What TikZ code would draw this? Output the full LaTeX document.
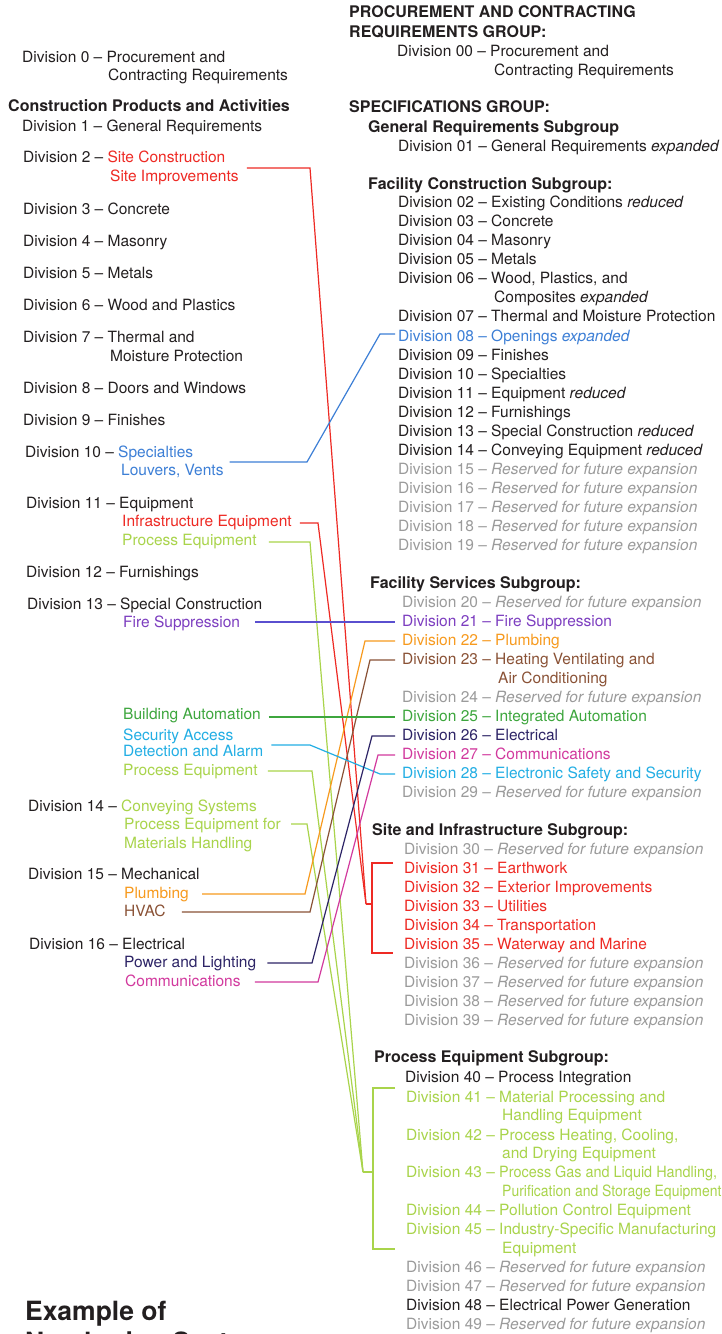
\documentclass[tikz,border=0pt]{standalone}
\usepackage{fontspec}
\setmainfont{TeX Gyre Heros}
\usepackage{graphicx}
\definecolor{ink}{HTML}{231F20}
\definecolor{cred}{HTML}{EE2A24}
\definecolor{cblue}{HTML}{3D7FD6}
\definecolor{clgreen}{HTML}{A9D44B}
\definecolor{cpurple}{HTML}{7D3EC0}
\definecolor{cfire}{HTML}{5A4FCF}
\definecolor{cgreen}{HTML}{3DA63D}
\definecolor{ccyan}{HTML}{22AEE4}
\definecolor{corange}{HTML}{F79A1E}
\definecolor{cbrown}{HTML}{8A5236}
\definecolor{cnavy}{HTML}{2D2466}
\definecolor{cmag}{HTML}{D23A9E}
\definecolor{cgray}{HTML}{9B9B9B}
\newcommand\resv[1]{Division #1 -- \textit{Reserved for future expansion}}
\tikzset{
  txt/.style={anchor=base west, inner sep=0pt, text height=11.5pt, text depth=3.5pt,
    font=\fontsize{15.5}{19}\selectfont, text=ink},
  hdl/.style={txt, font=\fontsize{16}{19}\selectfont\bfseries},
  res/.style={txt, text=cgray},
  conn/.style={line width=1.2pt, line join=miter}
}
\begin{document}
\begin{tikzpicture}[x=1pt,y=-1pt]
\fill[white] (0,0) rectangle (722,1334);
\useasboundingbox (0,0) rectangle (722,1334);

% ---------- left column ----------
\node[txt] (L0a) at (22,62) {Division 0 -- Procurement and};
\node[txt] (L0b) at (108,80) {Contracting Requirements};
\node[hdl] (Lcp) at (8,111) {Construction Products and Activities};
\node[txt] (L1) at (22,131) {Division 1 -- General Requirements};
\node[txt] (L2a) at (23,162) {Division 2 -- \textcolor{cred}{Site Construction}};
\node[txt,text=cred] (L2b) at (110,181) {Site Improvements};
\node[txt] (L3) at (23,214) {Division 3 -- Concrete};
\node[txt] (L4) at (23,246) {Division 4 -- Masonry};
\node[txt] (L5) at (23,278) {Division 5 -- Metals};
\node[txt] (L6) at (23,310) {Division 6 -- Wood and Plastics};
\node[txt] (L7a) at (23,342) {Division 7 -- Thermal and};
\node[txt] (L7b) at (110,361) {Moisture Protection};
\node[txt] (L8) at (23,393) {Division 8 -- Doors and Windows};
\node[txt] (L9) at (23,425) {Division 9 -- Finishes};
\node[txt] (L10a) at (25,457) {Division 10 -- \textcolor{cblue}{Specialties}};
\node[txt,text=cblue] (L10b) at (121,475) {Louvers, Vents};
\node[txt] (L11a) at (26,508) {Division 11 -- Equipment};
\node[txt,text=cred] (L11b) at (122,526) {Infrastructure Equipment};
\node[txt,text=clgreen] (L11c) at (122,545) {Process Equipment};
\node[txt] (L12) at (26,577) {Division 12 -- Furnishings};
\node[txt] (L13a) at (27,609) {Division 13 -- Special Construction};
\node[txt,text=cpurple] (L13b) at (123,627) {Fire Suppression};
\node[txt,text=cgreen] (Lba) at (123,719) {Building Automation};
\node[txt,text=ccyan] (Lsa) at (123,740) {Security Access};
\node[txt,text=ccyan] (Lsb) at (123,756) {Detection and Alarm};
\node[txt,text=clgreen] (Lpe) at (123,775) {Process Equipment};
\node[txt] (L14a) at (28,811) {Division 14 -- \textcolor{clgreen}{Conveying Systems}};
\node[txt,text=clgreen] (L14b) at (124,829) {Process Equipment for};
\node[txt,text=clgreen] (L14c) at (124,848) {Materials Handling};
\node[txt] (L15a) at (28,879) {Division 15 -- Mechanical};
\node[txt,text=corange] (L15b) at (124,898) {Plumbing};
\node[txt,text=cbrown] (L15c) at (124,916) {HVAC};
\node[txt] (L16a) at (29,949) {Division 16 -- Electrical};
\node[txt,text=cnavy] (L16b) at (124,967) {Power and Lighting};
\node[txt,text=cmag] (L16c) at (125,986) {Communications};
\node[txt,font=\fontsize{26.5}{30}\selectfont\bfseries,text height=20pt] (Lex) at (25,1320) {Example of};
\node[txt,font=\fontsize{26.5}{30}\selectfont\bfseries,text height=20pt] (Lex2) at (25,1351) {Numbering System};

% ---------- right column ----------
\node[hdl] (Rpc1) at (349,17) {PROCUREMENT AND CONTRACTING};
\node[hdl] (Rpc2) at (349,37) {REQUIREMENTS GROUP:};
\node[txt] (R00a) at (397,56) {Division 00 -- Procurement and};
\node[txt] (R00b) at (494,75) {Contracting Requirements};
\node[hdl] (Rsg) at (349,112) {SPECIFICATIONS GROUP:};
\node[hdl] (Rgr) at (368,132) {General Requirements Subgroup};
\node[txt] (R01) at (398,151) {Division 01 -- General Requirements \textit{expanded}};
\node[hdl] (Rfc) at (368,189) {Facility Construction Subgroup:};
\node[txt] (R02) at (398,207) {Division 02 -- Existing Conditions \textit{reduced}};
\node[txt] (R03) at (398,226) {Division 03 -- Concrete};
\node[txt] (R04) at (398,245) {Division 04 -- Masonry};
\node[txt] (R05) at (398,264) {Division 05 -- Metals};
\node[txt] (R06a) at (398,283) {Division 06 -- Wood, Plastics, and};
\node[txt] (R06b) at (494,302) {Composites \textit{expanded}};
\node[txt] (R07) at (398,321) {Division 07 -- Thermal and Moisture Protection};
\node[txt,text=cblue] (R08) at (398,341) {Division 08 -- Openings \textit{expanded}};
\node[txt] (R09) at (398,360) {Division 09 -- Finishes};
\node[txt] (R10) at (398,379) {Division 10 -- Specialties};
\node[txt] (R11) at (398,398) {Division 11 -- Equipment \textit{reduced}};
\node[txt] (R12) at (398,417) {Division 12 -- Furnishings};
\node[txt] (R13) at (398,436) {Division 13 -- Special Construction \textit{reduced}};
\node[txt] (R14) at (398,455) {Division 14 -- Conveying Equipment \textit{reduced}};
\node[res] (R15) at (398,474) {\resv{15}};
\node[res] (R16) at (398,493) {\resv{16}};
\node[res] (R17) at (398,512) {\resv{17}};
\node[res] (R18) at (398,531) {\resv{18}};
\node[res] (R19) at (398,550) {\resv{19}};

\node[hdl] (Rfs) at (370,588) {Facility Services Subgroup:};
\node[res] (R20) at (402,607) {\resv{20}};
\node[txt,text=cpurple] (R21) at (402,626) {Division 21 -- Fire Suppression};
\node[txt,text=corange] (R22) at (402,645) {Division 22 -- Plumbing};
\node[txt,text=cbrown] (R23a) at (402,664) {Division 23 -- Heating Ventilating and};
\node[txt,text=cbrown] (R23b) at (498,683) {Air Conditioning};
\node[res] (R24) at (402,702) {\resv{24}};
\node[txt,text=cgreen] (R25) at (402,721) {Division 25 -- Integrated Automation};
\node[txt,text=cnavy] (R26) at (402,740) {Division 26 -- Electrical};
\node[txt,text=cmag] (R27) at (402,759) {Division 27 -- Communications};
\node[txt,text=ccyan] (R28) at (402,778) {Division 28 -- Electronic Safety and Security};
\node[res] (R29) at (402,797) {\resv{29}};

\node[hdl] (Rsi) at (372,835) {Site and Infrastructure Subgroup:};
\node[res] (R30) at (404,854) {\resv{30}};
\node[txt,text=cred] (R31) at (404,873) {Division 31 -- Earthwork};
\node[txt,text=cred] (R32) at (404,892) {Division 32 -- Exterior Improvements};
\node[txt,text=cred] (R33) at (404,911) {Division 33 -- Utilities};
\node[txt,text=cred] (R34) at (404,930) {Division 34 -- Transportation};
\node[txt,text=cred] (R35) at (404,949) {Division 35 -- Waterway and Marine};
\node[res] (R36) at (404,968) {\resv{36}};
\node[res] (R37) at (404,987) {\resv{37}};
\node[res] (R38) at (404,1006) {\resv{38}};
\node[res] (R39) at (404,1025) {\resv{39}};

\node[hdl] (Rpe) at (374,1062) {Process Equipment Subgroup:};
\node[txt] (R40) at (405,1082) {Division 40 -- Process Integration};
\node[txt,text=clgreen] (R41a) at (406,1102) {Division 41 -- Material Processing and};
\node[txt,text=clgreen] (R41b) at (502,1120) {Handling Equipment};
\node[txt,text=clgreen] (R42a) at (406,1140) {Division 42 -- Process Heating, Cooling,};
\node[txt,text=clgreen] (R42b) at (502,1158) {and Drying Equipment};
\node[txt,text=clgreen] (R43a) at (406,1177) {Division 43 -- \scalebox{0.93}[1]{Process Gas and Liquid Handling,}};
\node[txt,text=clgreen] (R43b) at (502,1196) {\scalebox{0.9}[1]{Purification and Storage Equipment}};
\node[txt,text=clgreen] (R44) at (406,1215) {Division 44 -- Pollution Control Equipment};
\node[txt,text=clgreen] (R45a) at (406,1234) {Division 45 -- Industry-Specific Manufacturing};
\node[txt,text=clgreen] (R45b) at (502,1253) {Equipment};
\node[res] (R46) at (406,1272) {\resv{46}};
\node[res] (R47) at (406,1291) {\resv{47}};
\node[txt] (R48) at (406,1310) {Division 48 -- Electrical Power Generation};
\node[res] (R49) at (406,1329) {\resv{49}};

% ---------- helper x positions ----------
\coordinate (k305) at (305,0);
\coordinate (k307) at (307,0);
\coordinate (k310) at (310,0);
\coordinate (k312) at (312,0);
\coordinate (k318) at (318,0);
\coordinate (k365) at (365,0);
\coordinate (k370) at (370,0);
\coordinate (k372) at (372,0);
\coordinate (k373) at (373,0);
\coordinate (k378) at (378,0);
\coordinate (k380) at (380,0);
\coordinate (jred) at (366,904);
\coordinate (jgr) at (363,1172);

% start points
\path (L2b.east) ++(8,-9) coordinate (s2b);
\path (L10b.east) ++(6,-9) coordinate (s10b);
\path (L11b.east) ++(8,1) coordinate (s11b);
\path (L11c.east) ++(12,1) coordinate (s11c);
\path (L13b.east) ++(15,-1) coordinate (s13b);
\path (Lba.east) ++(8,2) coordinate (sba);
\path (Lsb.east) ++(8,-7) coordinate (ssb);
\path (Lpe.east) ++(10,0) coordinate (spe);
\path (L14b.east) ++(10,-1) coordinate (s14b);
\path (L15b.east) ++(13,0) coordinate (s15b);
\path (L15c.east) ++(16,0) coordinate (s15c);
\path (L16b.east) ++(11,0) coordinate (s16b);
\path (L16c.east) ++(14,0) coordinate (s16c);
% end points
\path (R08.west) ++(-3,-3) coordinate (e08);
\path (R21.west) ++(-7,0) coordinate (e21);
\path (R22.west) ++(-7,0) coordinate (e22);
\path (R23a.west) ++(-7,0) coordinate (e23);
\path (R25.west) ++(-7,0) coordinate (e25);
\path (R26.west) ++(-7,0) coordinate (e26);
\path (R27.west) ++(-7,0) coordinate (e27);
\path (R28.west) ++(-7,0) coordinate (e28);
\path (R31.west) ++(-11,-6) coordinate (b31);
\path (R35.west) ++(-11,8) coordinate (b35);
\path (R41a.west) ++(-11,-10) coordinate (b41);
\path (R45b.west) ++(-107,0) coordinate (b45);

% ---------- connectors ----------
\draw[conn,cred] (s2b) -- (s2b -| k310) -- (jred);
\draw[conn,cred] (s11b) -- (s11b -| k318) -- (jred);
\draw[conn,cred] (jred) -- (jred -| k372);
\draw[conn,cred] (b31) -- (b31 -| k372) -- (b35 -| k372) -- (b35);

\draw[conn,clgreen] (s11c) -- (s11c -| k310) -- (jgr);
\draw[conn,clgreen] (spe) -- (spe -| k312) -- (jgr);
\draw[conn,clgreen] (s14b) -- (s14b -| k307) -- (jgr);
\draw[conn,clgreen] (jgr) -- (jgr -| k373);
\draw[conn,clgreen] (b41) -- (b41 -| k373) -- (b45 -| k373) -- (b45);

\draw[conn,cblue] (s10b) -- (s10b -| k307) -- (e08 -| k380) -- (e08);
\draw[conn,cfire] (s13b) -- (s13b -| e21);
\draw[conn,corange] (s15b) -- (s15b -| k305) -- (e22 -| k365) -- (e22);
\draw[conn,cbrown] (s15c) -- (s15c -| k310) -- (e23 -| k370) -- (e23);
\draw[conn,cgreen] (sba) -- (sba -| e25);
\draw[conn,ccyan] (ssb) -- (ssb -| k310) -- (e28 -| k380) -- (e28);
\draw[conn,cnavy] (s16b) -- (s16b -| k312) -- (e26 -| k372) -- (e26);
\draw[conn,cmag] (s16c) -- (s16c -| k318) -- (e27 -| k378) -- (e27);
\end{tikzpicture}
\end{document}
